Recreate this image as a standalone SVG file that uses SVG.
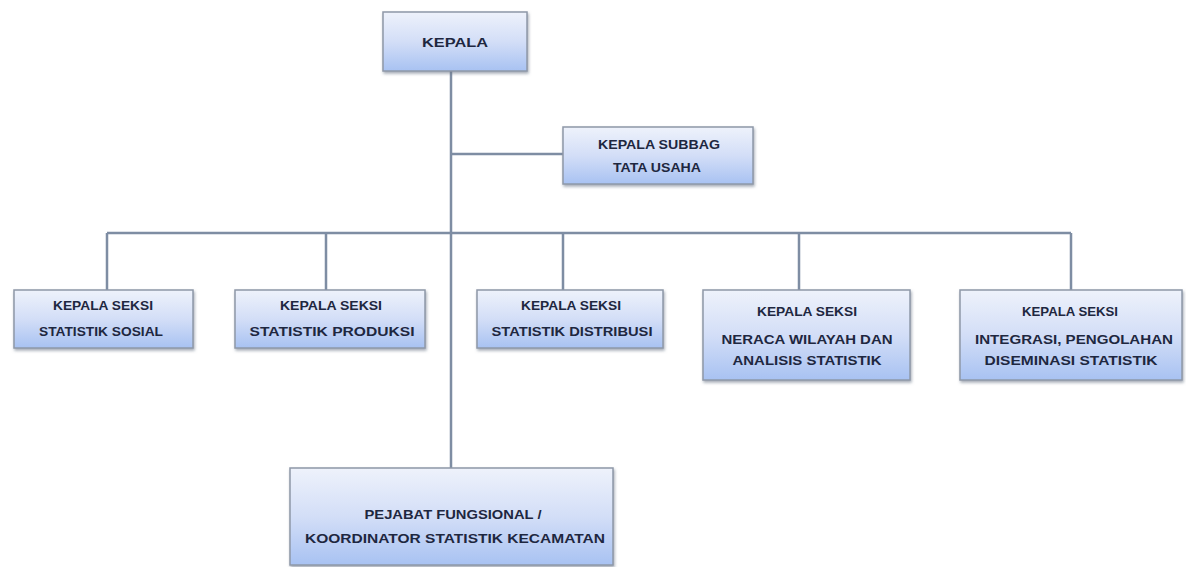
<svg xmlns="http://www.w3.org/2000/svg" width="1186" height="567" viewBox="0 0 1186 567">
<defs>
<linearGradient id="g" x1="0" y1="0" x2="0" y2="1">
<stop offset="0" stop-color="#eef2fb"/>
<stop offset="0.5" stop-color="#d3def7"/>
<stop offset="1" stop-color="#a8c2f2"/>
</linearGradient>
<filter id="sh" x="-10%" y="-10%" width="120%" height="130%">
<feDropShadow dx="1" dy="2" stdDeviation="1.5" flood-color="#6d7688" flood-opacity="0.6"/>
</filter>
</defs>
<style>
.box{fill:url(#g);stroke:#8e98a8;stroke-width:1.5;filter:url(#sh)}
.t{font-family:"Liberation Sans",Arial,sans-serif;font-weight:bold;font-size:13px;fill:#1e2740;text-anchor:middle;dominant-baseline:central}
.c{stroke:#7e8da3;stroke-width:2.5;fill:none}
</style>
<rect width="1186" height="567" fill="#ffffff"/>
<g id="connectors">
<path class="c" d="M451 71 V468"/>
<path class="c" d="M451 154 H563"/>
<path class="c" d="M107 233 H1071"/>
<path class="c" d="M107 233 V290 M326 233 V290 M563 233 V290 M799 233 V290 M1071 233 V290"/>
</g>
<g id="kepala"><rect class="box" x="383" y="12" width="144" height="59"/><text class="t" x="455" y="42" textLength="66" lengthAdjust="spacingAndGlyphs">KEPALA</text></g>
<g id="subbag"><rect class="box" x="563" y="127" width="190" height="57"/><text class="t" x="659" y="144" textLength="122" lengthAdjust="spacingAndGlyphs">KEPALA SUBBAG</text><text class="t" x="657" y="167" textLength="88" lengthAdjust="spacingAndGlyphs">TATA USAHA</text></g>
<g id="sosial"><rect class="box" x="14" y="290" width="179" height="58"/><text class="t" x="103" y="305" textLength="100" lengthAdjust="spacingAndGlyphs">KEPALA SEKSI</text><text class="t" x="101" y="331" textLength="124" lengthAdjust="spacingAndGlyphs">STATISTIK SOSIAL</text></g>
<g id="produksi"><rect class="box" x="235" y="290" width="190" height="58"/><text class="t" x="331" y="305" textLength="102" lengthAdjust="spacingAndGlyphs">KEPALA SEKSI</text><text class="t" x="332" y="331" textLength="165" lengthAdjust="spacingAndGlyphs">STATISTIK PRODUKSI</text></g>
<g id="distribusi"><rect class="box" x="477" y="290" width="186" height="58"/><text class="t" x="571" y="305" textLength="100" lengthAdjust="spacingAndGlyphs">KEPALA SEKSI</text><text class="t" x="572" y="331" textLength="161" lengthAdjust="spacingAndGlyphs">STATISTIK DISTRIBUSI</text></g>
<g id="neraca"><rect class="box" x="703" y="290" width="207" height="90"/><text class="t" x="807" y="311" textLength="100" lengthAdjust="spacingAndGlyphs">KEPALA SEKSI</text><text class="t" x="807" y="339" textLength="171" lengthAdjust="spacingAndGlyphs">NERACA WILAYAH DAN</text><text class="t" x="807" y="360" textLength="149" lengthAdjust="spacingAndGlyphs">ANALISIS STATISTIK</text></g>
<g id="integrasi"><rect class="box" x="960" y="290" width="222" height="90"/><text class="t" x="1070" y="311" textLength="96" lengthAdjust="spacingAndGlyphs">KEPALA SEKSI</text><text class="t" x="1074" y="339" textLength="198" lengthAdjust="spacingAndGlyphs">INTEGRASI, PENGOLAHAN</text><text class="t" x="1071" y="360" textLength="173" lengthAdjust="spacingAndGlyphs">DISEMINASI STATISTIK</text></g>
<g id="pejabat"><rect class="box" x="290" y="468" width="323" height="97"/><text class="t" x="453" y="514" textLength="177" lengthAdjust="spacingAndGlyphs">PEJABAT FUNGSIONAL /</text><text class="t" x="455" y="538" textLength="300" lengthAdjust="spacingAndGlyphs">KOORDINATOR STATISTIK KECAMATAN</text></g>
</svg>
